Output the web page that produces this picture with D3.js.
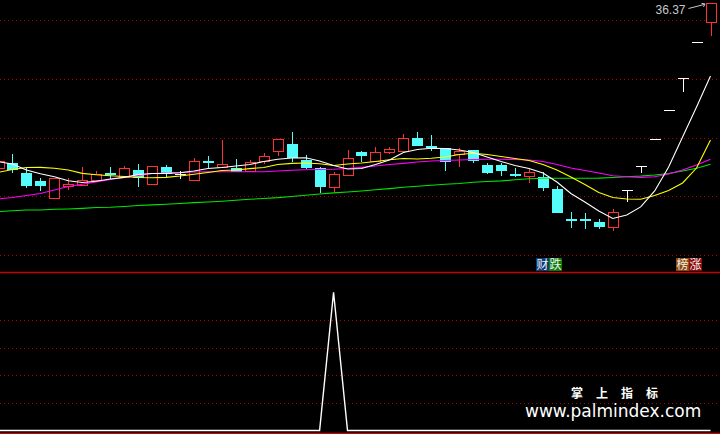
<!DOCTYPE html>
<html>
<head>
<meta charset="utf-8">
<script src="https://cdn.jsdelivr.net/npm/d3@7"></script>
<style>
html,body{margin:0;padding:0;background:#000;overflow:hidden;}
svg{display:block;}
</style>
</head>
<body>
<svg id="chart" width="720" height="434"></svg>
<script>
// ---------- data ----------
const openP  = [22.32,22.81,22.00,21.30,19.79,20.81,20.95,21.30,21.88,21.58,22.23,20.98,22.49,21.89,21.32,22.96,22.43,22.43,22.09,22.95,23.79,24.45,23.09,22.43,20.73,21.75,23.77,23.00,23.71,23.79,24.94,24.19,24.08,23.54,23.94,22.66,22.66,21.83,21.70,21.66,20.62,17.99,18.00,17.81,17.32,20.51,22.56,24.82,27.30,30.03,33.06,34.80];
const closeP = [22.95,22.23,20.87,20.87,21.47,21.01,21.30,21.86,21.85,22.37,21.53,22.49,21.89,21.89,22.92,22.93,22.72,22.09,22.89,23.36,24.79,23.23,22.43,20.79,21.81,23.23,23.43,23.74,23.94,24.94,24.28,24.15,22.95,23.77,22.98,22.00,22.15,21.79,21.98,20.73,18.60,17.96,17.96,17.41,18.63,20.51,22.56,24.82,27.30,30.03,33.06,36.37];
const highP  = [23.00,23.60,22.37,21.58,21.50,21.58,22.51,22.15,22.51,22.57,22.74,22.51,22.66,22.15,23.28,23.43,24.79,23.17,23.09,23.68,24.81,25.49,23.51,22.46,22.06,23.94,23.85,24.19,24.19,25.30,25.47,25.21,24.10,24.11,23.96,22.86,22.86,22.43,22.34,22.06,20.90,18.66,18.55,18.06,18.91,20.51,22.56,24.82,27.30,30.03,33.06,36.37];
const lowP   = [22.28,21.95,20.72,20.45,19.76,20.53,20.93,21.28,21.38,21.56,20.81,20.96,21.64,21.44,21.30,22.43,22.41,22.04,22.07,22.72,23.45,22.95,22.32,20.28,20.39,21.73,22.95,22.98,23.60,23.77,24.26,23.85,22.17,22.46,22.86,21.89,21.75,21.61,21.15,20.47,18.58,17.32,17.24,17.21,17.04,19.54,22.00,24.82,27.30,28.85,33.06,33.66];

const ma5  = [22.94,22.75,22.23,21.92,21.66,21.32,21.17,21.27,21.47,21.61,21.85,21.94,21.95,22.00,22.15,22.36,22.45,22.57,22.70,22.96,23.15,23.26,23.27,23.00,22.62,22.32,22.36,22.70,23.09,23.72,23.98,24.08,24.06,23.94,23.72,23.34,22.96,22.62,22.36,21.98,21.21,20.23,19.51,18.75,18.11,18.40,19.09,20.45,22.49,25.04,27.60,30.23];
const ma10 = [22.04,22.28,22.45,22.46,22.38,22.23,21.95,21.83,21.75,21.68,21.60,21.58,21.61,21.72,21.87,22.02,22.19,22.23,22.35,22.45,22.70,22.80,22.83,22.76,22.62,22.75,22.83,22.96,23.11,23.21,23.17,23.23,23.34,23.55,23.66,23.55,23.38,23.21,23.04,22.70,22.23,21.64,21.00,20.32,19.89,19.77,19.74,20.06,20.49,21.13,22.40,24.79];
const ma20 = [19.77,19.89,20.06,20.23,20.53,20.83,21.02,21.21,21.43,21.60,21.77,21.94,21.98,22.02,22.06,22.08,22.08,22.08,22.09,22.09,22.15,22.21,22.25,22.28,22.30,22.36,22.46,22.57,22.70,22.80,22.92,23.00,23.04,23.09,23.13,23.15,23.15,23.13,23.09,22.96,22.70,22.40,22.19,21.98,21.74,21.66,21.61,21.66,21.89,22.23,22.66,23.15];
const ma60 = [18.69,18.77,18.83,18.83,18.89,18.92,18.97,19.04,19.06,19.13,19.21,19.27,19.32,19.38,19.46,19.51,19.58,19.66,19.74,19.81,19.88,19.98,20.08,20.19,20.29,20.36,20.45,20.55,20.65,20.76,20.85,20.93,21.02,21.09,21.19,21.26,21.31,21.40,21.49,21.53,21.53,21.53,21.53,21.54,21.59,21.66,21.72,21.81,21.94,22.15,22.38,22.72];

const signalValues = [0,0,0,0,0,0,0,0,0,0,0,0,0,0,0,0,0,0,0,0,0,0,0,0,100,0,0,0,0,0,0,0,0,0,0,0,0,0,0,0,0,0,0,0,0,0,0,0,0,0,0,0];

const priceGrid = [15,20,25,30,35];
const signalGrid = [20,40,60,80];

const tagIndex = [39, 49];
const tagChars = [["财","跌"],["榜","涨"]];
const tagColors = [["#0a3c78","#0a7c0a"],["#8c4a08","#8c0a0a"]];

const maColors = ["#ffffff","#ffff00","#ff00ff","#00e600"];

// ---------- drawing ----------
const svg = d3.select("#chart");
svg.append("rect").attr("width",720).attr("height",434).attr("fill","#000");

const n = closeP.length;
const x = d3.scaleLinear().domain([0, n-1]).range([-1.5, 710.5]);
const y = d3.scaleLinear().domain([15, 35]).range([255, 20]);
const y2 = d3.scaleLinear().domain([0, 100]).range([430.5, 292.3]);

const UP = "#ff3232", DOWN = "#54fcfc", GRID = "#b00000", FRAME = "#c80000";

svg.append("clipPath").attr("id","mainClip").append("rect").attr("x",0).attr("y",0).attr("width",720).attr("height",271);

// grid lines (main)
const gMain = svg.append("g").attr("clip-path","url(#mainClip)");
gMain.selectAll("line.grid").data(priceGrid).enter().append("line")
  .attr("x1",0).attr("x2",720)
  .attr("y1",d=>Math.round(y(d))+0.5).attr("y2",d=>Math.round(y(d))+0.5)
  .attr("stroke",GRID).attr("stroke-width",1).attr("stroke-dasharray","1,3");

// lower grid
svg.selectAll("line.grid2").data(signalGrid).enter().append("line")
  .attr("x1",0).attr("x2",720)
  .attr("y1",d=>Math.round(y2(d))+0.5).attr("y2",d=>Math.round(y2(d))+0.5)
  .attr("stroke",GRID).attr("stroke-width",1).attr("stroke-dasharray","1,3");

// frame lines
svg.append("line").attr("x1",0).attr("x2",720).attr("y1",272.5).attr("y2",272.5).attr("stroke",FRAME).attr("stroke-width",1.3);
svg.append("line").attr("x1",0).attr("x2",720).attr("y1",433.3).attr("y2",433.3).attr("stroke",FRAME).attr("stroke-width",1.3);

// candles
const idx = d3.range(n);
const gC = gMain.append("g").attr("shape-rendering","crispEdges");
idx.forEach(i=>{
  const o=openP[i], c=closeP[i], h=highP[i], l=lowP[i];
  const left = Math.round(x(i)) - 5;
  const cx = left + 5.5;
  const yo=y(o), yc=y(c), yh=y(h), yl=y(l);
  if (c > o) {
    const top = yc, bot = yo;
    gC.append("line").attr("x1",cx).attr("x2",cx).attr("y1",yh).attr("y2",top).attr("stroke",UP);
    gC.append("line").attr("x1",cx).attr("x2",cx).attr("y1",bot).attr("y2",yl).attr("stroke",UP);
    gC.append("rect").attr("x",left+0.5).attr("y",top).attr("width",10).attr("height",Math.max(1,bot-top))
      .attr("fill","#000").attr("stroke",UP).attr("stroke-width",1);
  } else if (c < o) {
    gC.append("line").attr("x1",cx).attr("x2",cx).attr("y1",yh).attr("y2",yl).attr("stroke",DOWN);
    const hgt = Math.max(2, yc-yo);
    gC.append("rect").attr("x",left).attr("y",yo - (hgt-(yc-yo))/2).attr("width",11).attr("height",hgt).attr("fill",DOWN);
  } else {
    gC.append("line").attr("x1",cx).attr("x2",cx).attr("y1",yh).attr("y2",yl).attr("stroke","#fff");
    gC.append("line").attr("x1",left).attr("x2",left+11).attr("y1",yo).attr("y2",yo).attr("stroke","#fff");
  }
});

// moving averages
[ma60, ma20, ma10, ma5].forEach((arr,k)=>{
  const col = [maColors[3],maColors[2],maColors[1],maColors[0]][k];
  gMain.append("path").datum(arr)
    .attr("d", d3.line().x((d,i)=>x(i)).y(d=>y(d)))
    .attr("fill","none").attr("stroke",col).attr("stroke-width",1.1);
});

// max price label
const maxI = d3.maxIndex(highP);
const mx = x(maxI), my = y(highP[maxI]);
svg.append("text").attr("x", mx-25).attr("y", 14).attr("text-anchor","end")
  .attr("font-family","Liberation Sans, Arial, sans-serif").attr("font-size",12)
  .attr("fill","#c8c8c8").text(highP[maxI].toFixed(2));
svg.append("line").attr("x1",mx-22).attr("y1",8.5).attr("x2",mx-6).attr("y2",my+0.5)
  .attr("stroke","#c8c8c8").attr("stroke-width",1);
svg.append("path").attr("d",`M${mx-9},${my-0.5} L${mx-5.5},${my} L${mx-7},${my+3}`)
  .attr("fill","none").attr("stroke","#c8c8c8").attr("stroke-width",1);

// signal tags
tagIndex.forEach((ti,k)=>{
  const left = Math.round(x(ti)) - 7;
  tagChars[k].forEach((ch,j)=>{
    svg.append("rect").attr("x",left+j*13).attr("y",258).attr("width",13).attr("height",13).attr("fill",tagColors[k][j]);
    svg.append("text").attr("x",left+j*13+6.5).attr("y",269).attr("text-anchor","middle")
      .attr("font-family","Noto Sans CJK SC, sans-serif").attr("font-size",12)
      .attr("fill","#f0f0f0").text(ch);
  });
});

// lower indicator line
svg.append("path").datum(signalValues)
  .attr("d", d3.line().x((d,i)=>x(i)).y(d=>y2(d)))
  .attr("fill","none").attr("stroke","#ffffff").attr("stroke-width",1.4);

// watermark
svg.append("text").attr("x",571).attr("y",398)
  .attr("font-family","Noto Sans CJK SC, sans-serif").attr("font-size",12).attr("font-weight","bold")
  .attr("letter-spacing","13px").attr("fill","#ffffff").text("掌上指标");
svg.append("text").attr("x",525).attr("y",416.5)
  .attr("font-family","DejaVu Sans, sans-serif").attr("font-size",17)
  .attr("fill","#ffffff").text("www.palmindex.com");
</script>
</body>
</html>
